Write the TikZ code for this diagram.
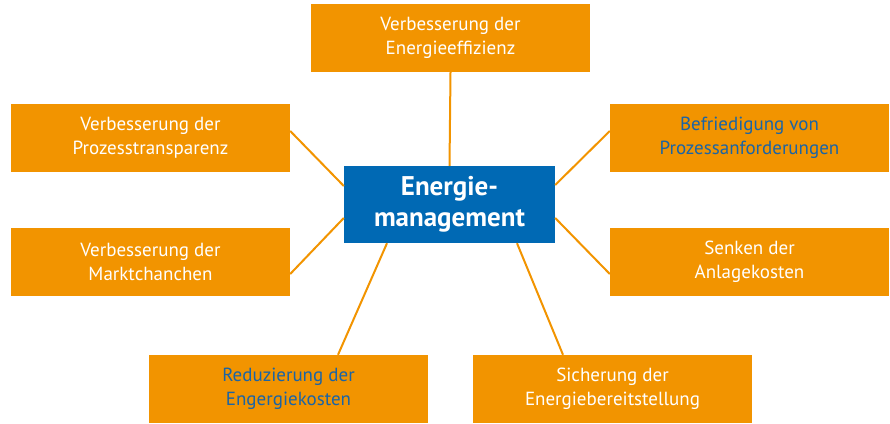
\documentclass[tikz,border=0pt]{standalone}
\usepackage{fontspec}
\setmainfont{PT Sans}
\definecolor{orng}{HTML}{F29400}
\definecolor{eblue}{HTML}{0069B4}
\definecolor{tblue}{HTML}{1A64A6}
\begin{document}
\begin{tikzpicture}[x=1pt,y=1pt,
  box/.style={fill=orng,draw=none,minimum width=279pt,minimum height=68pt,inner sep=0pt,
    align=center,font=\fontsize{19}{24}\selectfont,text=white},
  bluetext/.style={text=tblue},
  center/.style={fill=eblue,draw=none,minimum width=211pt,minimum height=77pt,inner sep=0pt,
    align=center,font=\fontsize{27}{31}\selectfont\bfseries,text=white},
  link/.style={draw=orng,line width=2pt}]
\useasboundingbox (0,0) rectangle (890,423);
\node[box] (top) at (450.5,385) {Verbesserung der\\Energieeffizienz};
\node[box,bluetext] (rt) at (749.5,285) {Befriedigung von\\Prozessanforderungen};
\node[box] (lt) at (150.5,285) {Verbesserung der\\Prozesstransparenz};
\node[box] (lm) at (150.5,161) {Verbesserung der\\Marktchanchen};
\node[box] (rm) at (749.5,161) {Senken der\\Anlagekosten};
\node[box,bluetext] (bl) at (288.5,34) {Reduzierung der\\Engergiekosten};
\node[box] (br) at (612.5,34) {Sicherung der\\Energiebereitstellung};
\node[center] (c) at (449.5,218.5) {Energie-\\management};
\draw[link] (top.south) -- (c.north);
\draw[link] ([yshift=7]lt.east) -- ([yshift=18.5]c.west);
\draw[link] ([yshift=-12]lm.east) -- ([yshift=-13.5]c.west);
\draw[link] ([yshift=7]rt.west) -- ([yshift=19.5]c.east);
\draw[link] ([yshift=-12]rm.west) -- ([yshift=-13.5]c.east);
\draw[link] ([xshift=-62.5]c.south) -- ([xshift=49.5]bl.north);
\draw[link] ([xshift=67.5]c.south) -- ([xshift=-49.5]br.north);
\end{tikzpicture}
\end{document}
